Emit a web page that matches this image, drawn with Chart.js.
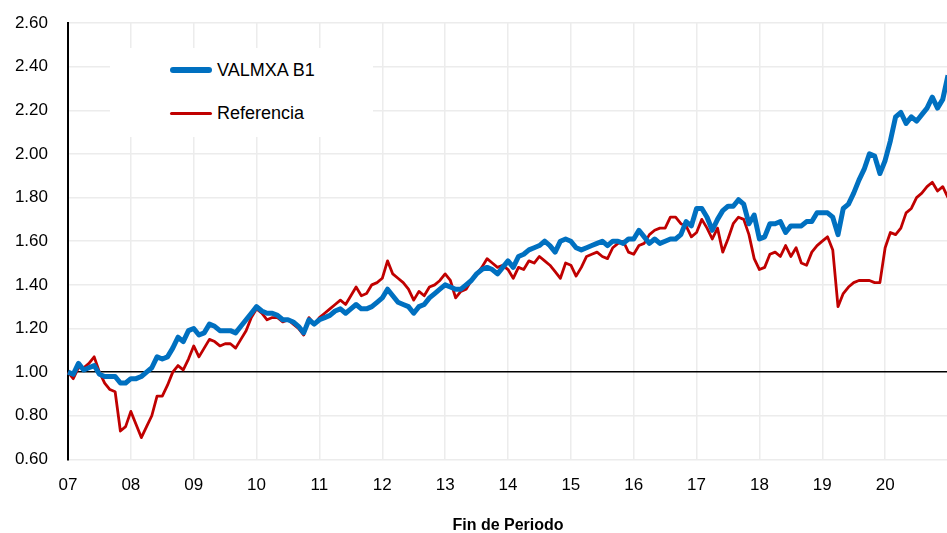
<!DOCTYPE html>
<html lang="es">
<head>
<meta charset="utf-8">
<title>VALMXA B1 vs Referencia</title>
<script src="https://cdn.jsdelivr.net/npm/chart.js@4.4.1/dist/chart.umd.min.js"></script>
<style>
  html, body { margin: 0; padding: 0; background: #fff; overflow: hidden; }
  #frame { position: relative; width: 947px; height: 533px; overflow: hidden; }
  #chartBox { position: absolute; left: 0; top: 0; width: 960px; height: 545px; }
  #legendBox {
    position: absolute; left: 110px; top: 48px; width: 263px; height: 89px;
    background: #fff; font-family: "Liberation Sans", Arial, sans-serif; font-size: 18px; color: #000;
  }
  .legend-row { position: absolute; left: 60px; height: 22px; line-height: 22px; }
  .legend-swatch { position: absolute; left: 0; width: 42px; border-radius: 3px; }
  .legend-label { position: absolute; left: 47px; white-space: nowrap; }
</style>
</head>
<body>
<div id="frame">
  <div id="chartBox"><canvas id="navChart"></canvas></div>
  <div id="legendBox"></div>
</div>
<script>
// ==========================================================
// Datos (mensuales desde ene-07)
// ==========================================================
const yearTicks = ['07', '08', '09', '10', '11', '12', '13', '14', '15', '16', '17', '18', '19', '20', '21'];
const yTicks = [0.60, 0.80, 1.00, 1.20, 1.40, 1.60, 1.80, 2.00, 2.20, 2.40, 2.60];

const seriesNames = ['VALMXA B1', 'Referencia'];
const seriesColors = ['#0070C0', '#C00000'];

const valmxa = [
  1.00, 0.99, 1.04, 1.01, 1.02, 1.03, 0.99, 0.98, 0.98, 0.98, 0.95, 0.95,
  0.97, 0.97, 0.98, 1.00, 1.02, 1.07, 1.06, 1.07, 1.11, 1.16, 1.14, 1.19,
  1.20, 1.17, 1.18, 1.22, 1.21, 1.19, 1.19, 1.19, 1.18, 1.21, 1.24, 1.27,
  1.30, 1.28, 1.27, 1.27, 1.26, 1.24, 1.24, 1.23, 1.21, 1.18, 1.24, 1.22,
  1.24, 1.25, 1.26, 1.28, 1.29, 1.27, 1.29, 1.31, 1.29, 1.29, 1.30, 1.32,
  1.34, 1.38, 1.35, 1.32, 1.31, 1.30, 1.27, 1.30, 1.31, 1.34, 1.36, 1.38,
  1.40, 1.39, 1.38, 1.38, 1.40, 1.42, 1.45, 1.47, 1.48, 1.47, 1.45, 1.48,
  1.51, 1.48, 1.53, 1.54, 1.56, 1.57, 1.58, 1.60, 1.58, 1.55, 1.60, 1.61,
  1.60, 1.57, 1.56, 1.57, 1.58, 1.59, 1.60, 1.58, 1.60, 1.60, 1.59, 1.61,
  1.61, 1.65, 1.62, 1.59, 1.61, 1.59, 1.60, 1.61, 1.61, 1.63, 1.69, 1.67,
  1.75, 1.75, 1.71, 1.65, 1.70, 1.74, 1.76, 1.76, 1.79, 1.77, 1.68, 1.72,
  1.61, 1.62, 1.68, 1.68, 1.69, 1.64, 1.67, 1.67, 1.67, 1.69, 1.69, 1.73,
  1.73, 1.73, 1.71, 1.63, 1.75, 1.77, 1.82, 1.88, 1.93, 2.00, 1.99, 1.91,
  1.97, 2.06, 2.17, 2.19, 2.14, 2.17, 2.15, 2.18, 2.21, 2.26, 2.21, 2.25,
  2.36
];

const referencia = [
  1.00, 0.97, 1.02, 1.02, 1.04, 1.07, 1.00, 0.95, 0.92, 0.91, 0.73, 0.75,
  0.82, 0.76, 0.70, 0.75, 0.80, 0.89, 0.89, 0.94, 1.00, 1.03, 1.01, 1.06,
  1.12, 1.07, 1.11, 1.15, 1.14, 1.12, 1.13, 1.13, 1.11, 1.15, 1.19, 1.25,
  1.29, 1.27, 1.24, 1.25, 1.25, 1.23, 1.24, 1.22, 1.20, 1.17, 1.25, 1.22,
  1.25, 1.27, 1.29, 1.31, 1.33, 1.31, 1.35, 1.39, 1.35, 1.36, 1.40, 1.41,
  1.43, 1.51, 1.45, 1.43, 1.41, 1.38, 1.33, 1.37, 1.35, 1.39, 1.40, 1.42,
  1.45, 1.42, 1.34, 1.37, 1.38, 1.42, 1.45, 1.48, 1.52, 1.50, 1.48, 1.49,
  1.47, 1.43, 1.48, 1.47, 1.51, 1.50, 1.53, 1.51, 1.49, 1.46, 1.43, 1.50,
  1.49, 1.44, 1.48, 1.53, 1.54, 1.55, 1.53, 1.52, 1.57, 1.59, 1.60, 1.55,
  1.54, 1.58, 1.59, 1.63, 1.65, 1.66, 1.66, 1.71, 1.71, 1.68, 1.67, 1.62,
  1.64, 1.70, 1.66, 1.61, 1.66, 1.55, 1.61, 1.68, 1.71, 1.70, 1.63, 1.52,
  1.47, 1.48, 1.54, 1.55, 1.53, 1.58, 1.53, 1.57, 1.50, 1.49, 1.55, 1.58,
  1.60, 1.62, 1.56, 1.30, 1.36, 1.39, 1.41, 1.42, 1.42, 1.42, 1.41, 1.41,
  1.57, 1.64, 1.63, 1.66, 1.73, 1.75, 1.80, 1.82, 1.85, 1.87, 1.83, 1.85,
  1.80
];

// ==========================================================
// Etiquetas mensuales (solo enero muestra el año)
// ==========================================================
const monthLabels = valmxa.map(function(v, i) {
  return yearTicks[Math.floor(i / 12)] + '-' + ((i % 12) + 1);
});

const FONT = '"Liberation Sans", Arial, sans-serif';

// ==========================================================
// Leyenda (caja blanca sobre la cuadrícula)
// ==========================================================
const legendBox = document.getElementById('legendBox');
const legendRows = [
  { top: 11, thick: 6 },
  { top: 54, thick: 3 }
];
seriesNames.forEach(function(name, i) {
  const row = document.createElement('div');
  row.className = 'legend-row';
  row.style.top = legendRows[i].top + 'px';
  row.innerHTML =
    '<div class="legend-swatch" style="top:' + (11 - legendRows[i].thick / 2) + 'px;height:' +
    legendRows[i].thick + 'px;background:' + seriesColors[i] + '"></div>' +
    '<span class="legend-label">' + name + '</span>';
  legendBox.appendChild(row);
});

// ==========================================================
// Gráfica
// ==========================================================
new Chart(document.getElementById('navChart'), {
  type: 'line',
  data: {
    labels: monthLabels,
    datasets: [
      {
        label: seriesNames[0],
        data: valmxa,
        borderColor: seriesColors[0],
        borderWidth: 5,
        pointRadius: 0,
        tension: 0,
        borderJoinStyle: 'round'
      },
      {
        label: seriesNames[1],
        data: referencia,
        borderColor: seriesColors[1],
        borderWidth: 2.8,
        pointRadius: 0,
        tension: 0,
        borderJoinStyle: 'round'
      }
    ]
  },
  options: {
    responsive: true,
    maintainAspectRatio: false,
    animation: false,
    layout: { padding: { top: 23, right: 12, bottom: 10, left: 0 } },
    plugins: {
      legend: { display: false },
      tooltip: { enabled: false }
    },
    scales: {
      x: {
        type: 'category',
        offset: false,
        border: { display: false },
        grid: {
          color: '#ececec',
          lineWidth: 1.5,
          drawTicks: false
        },
        ticks: {
          autoSkip: false,
          maxRotation: 0,
          padding: 16,
          color: '#000',
          font: { family: FONT, size: 17 },
          callback: function(value, index) {
            if (index % 12 !== 0 || index >= 168) return null;
            return yearTicks[index / 12];
          }
        },
        title: {
          display: true,
          text: 'Fin de Periodo',
          color: '#000',
          font: { family: FONT, size: 16, weight: 'bold' },
          padding: { top: 4, bottom: 0 }
        }
      },
      y: {
        min: yTicks[0],
        max: yTicks[yTicks.length - 1],
        afterFit: function(scale) {
          scale.width = 68;
          scale.paddingTop = 0;
          scale.paddingBottom = 0;
        },
        afterBuildTicks: function(scale) {
          scale.ticks = yTicks.map(function(v) { return { value: v }; });
        },
        border: { display: true, color: '#000', width: 2 },
        grid: {
          drawTicks: false,
          lineWidth: 1.5,
          color: function(ctx) {
            return ctx.tick && Math.abs(ctx.tick.value - 1) < 1e-6 ? '#000' : '#ececec';
          }
        },
        ticks: {
          padding: 20,
          color: '#000',
          font: { family: FONT, size: 17 },
          callback: function(value) { return Number(value).toFixed(2); }
        }
      }
    }
  }
});
</script>
</body>
</html>
